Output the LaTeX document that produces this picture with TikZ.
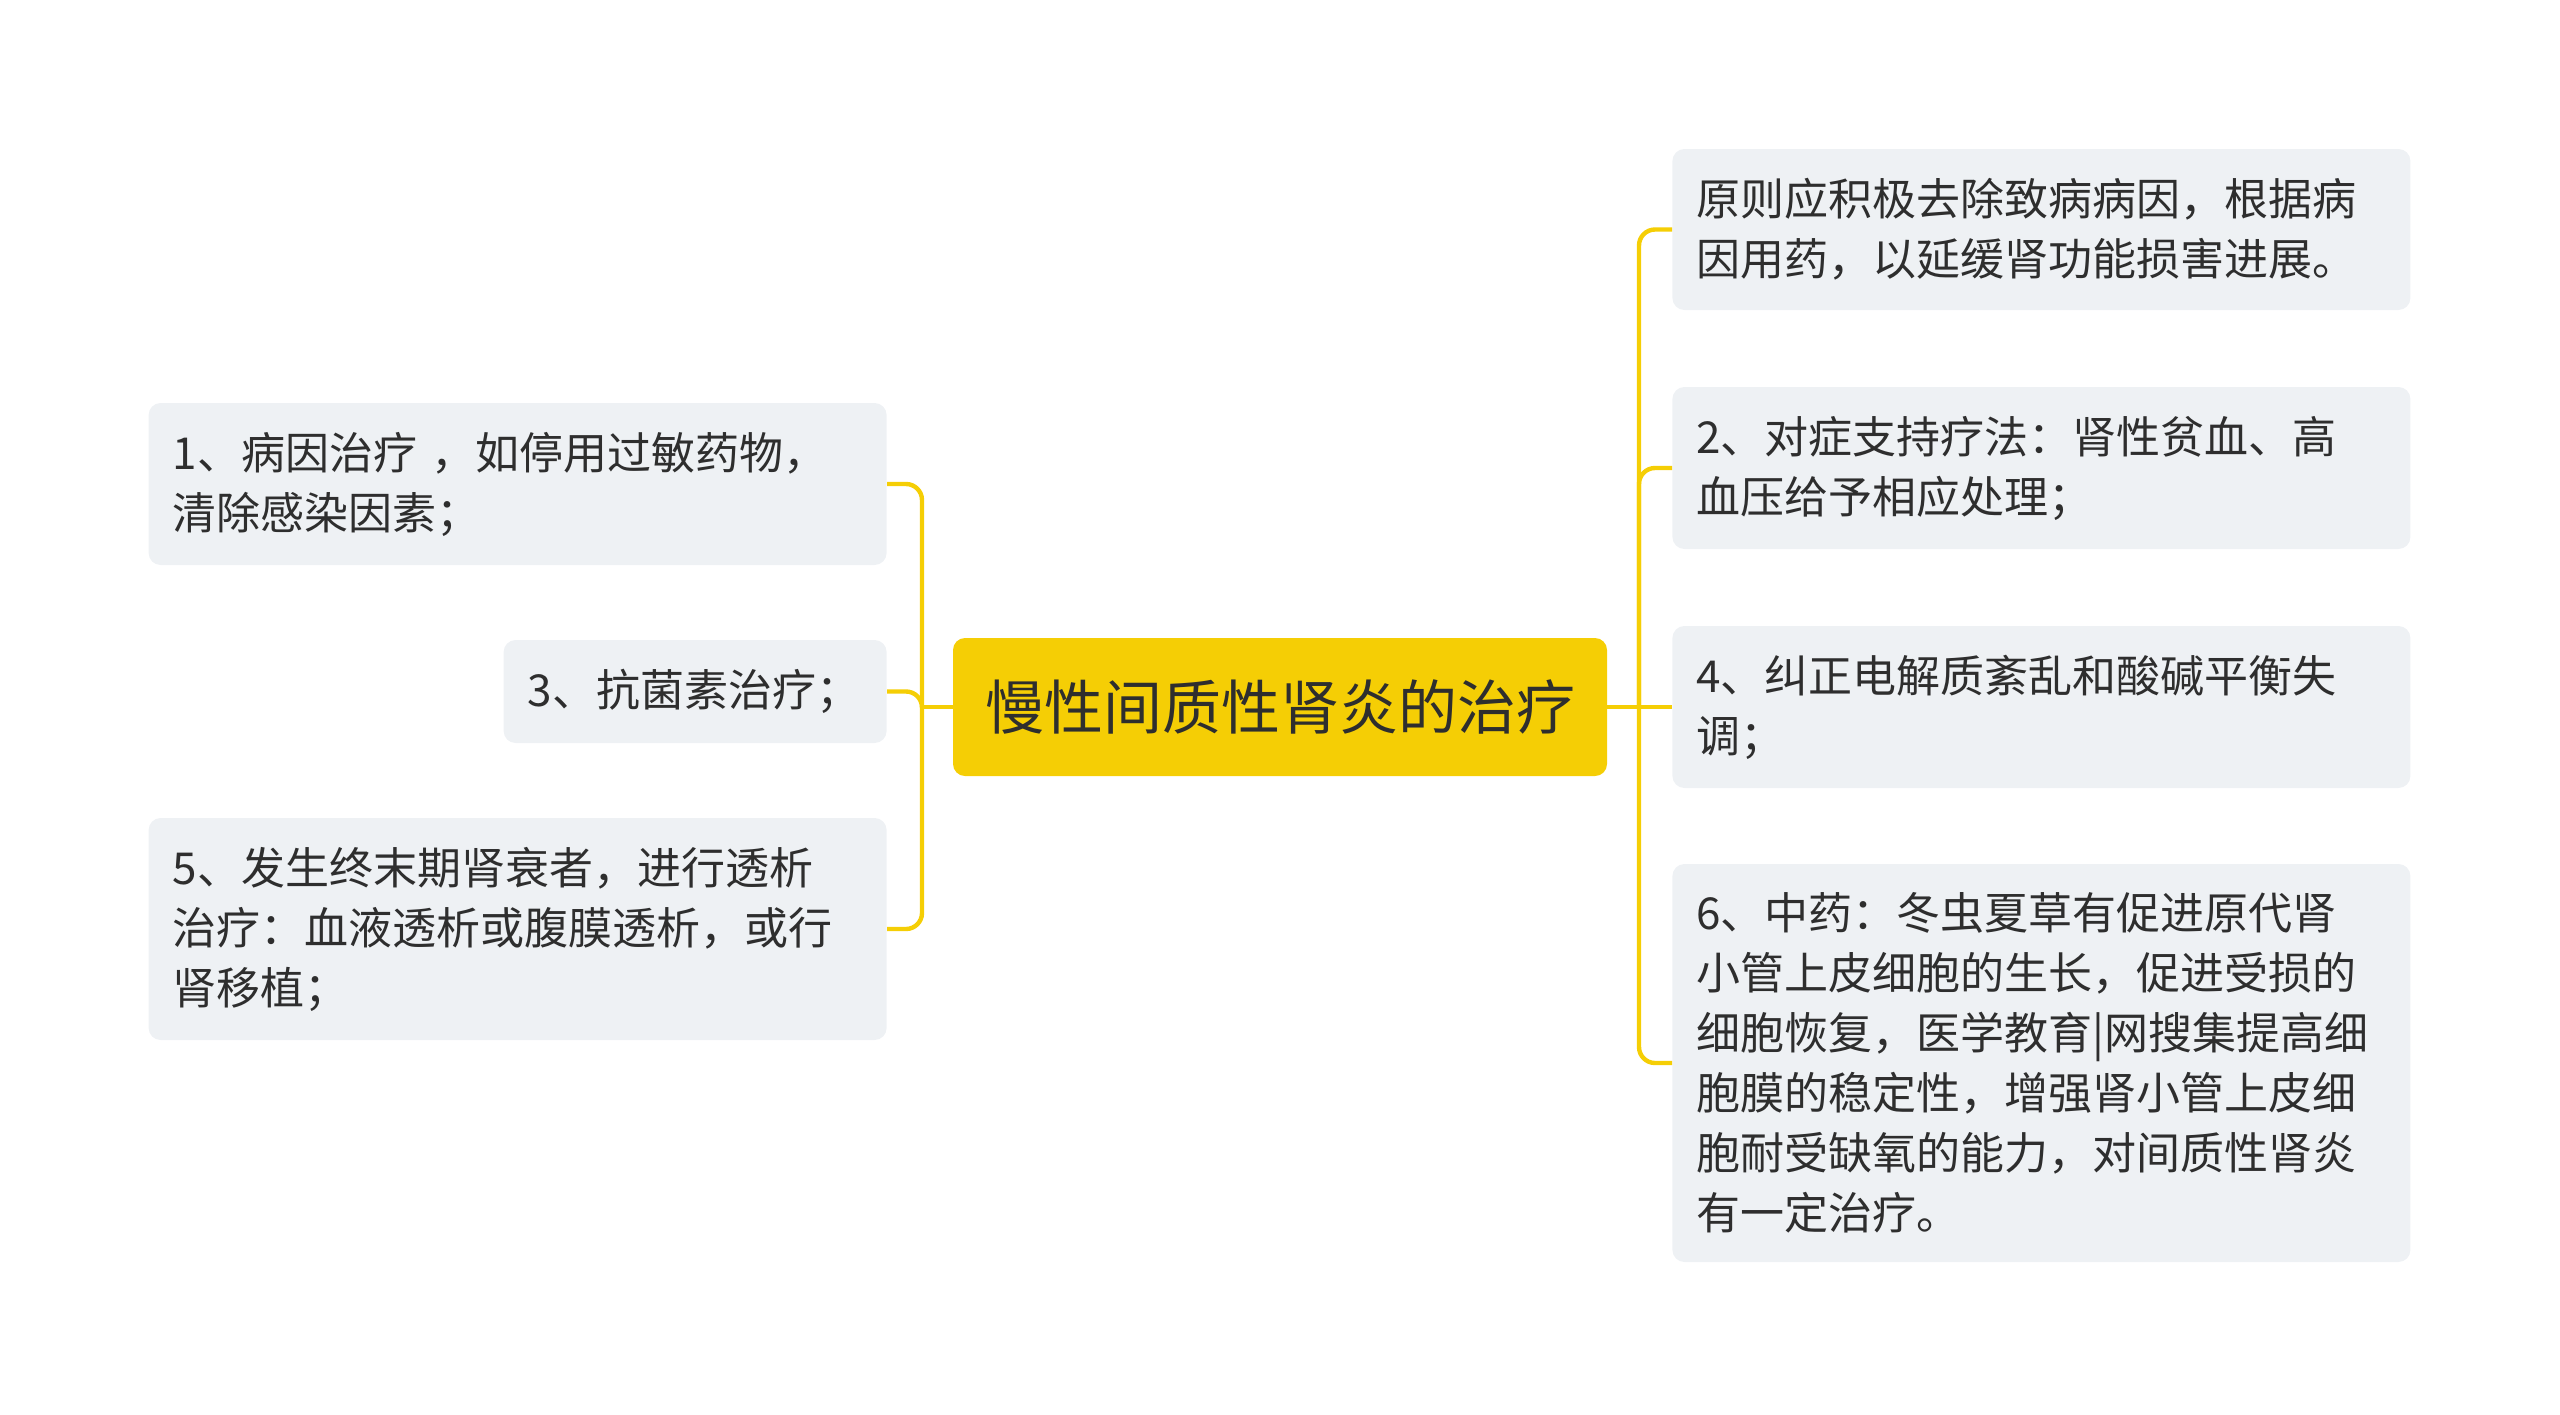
\documentclass[tikz,border=0pt]{standalone}
\usepackage{fontspec}
\setmainfont{Noto Sans CJK SC}
\usepackage{xcolor}
\usepackage{tikz}
\definecolor{rootyellow}{HTML}{F5CE05}
\definecolor{leafgray}{HTML}{EEF1F4}
\definecolor{inkgray}{HTML}{2E2E2E}

\begin{document}
\begin{tikzpicture}[x=0.5pt, y=-0.5pt,
        root/.style={fill=rootyellow, rounded corners=6pt, minimum width=327pt,
            minimum height=69pt, inner sep=0pt, text=inkgray,
            font=\fontsize{29.5pt}{36pt}\selectfont},
        leaf/.style={fill=leafgray, rounded corners=6pt, inner xsep=12pt,
            inner ysep=0pt, align=left, text=inkgray,
            font=\fontsize{22pt}{30pt}\selectfont},
        link/.style={draw=rootyellow, line width=2.2pt, rounded corners=8pt}]

            \useasboundingbox (0, 0) rectangle (2560, 1414);

            \node[root] (root) at (1280, 707) {慢性间质性肾炎的治疗};

            \node[leaf, anchor=east, text width=345pt, minimum height=81pt] (cause) at (887, 484)
            {1、病因治疗 ，如停用过敏药物，\\清除感染因素；};

            \node[leaf, anchor=east, text width=167.5pt, minimum height=51.5pt] (antibio) at (887, 691.5)
            {3、抗菌素治疗；};

            \node[leaf, anchor=east, text width=345pt, minimum height=111pt] (dialysis) at (887, 929)
            {5、发生终末期肾衰者，进行透析\\治疗：血液透析或腹膜透析，或行\\肾移植；};

            \node[leaf, anchor=west, text width=345pt, minimum height=80.5pt] (principle) at (1672, 229.5)
            {原则应积极去除致病病因，根据病\\因用药，以延缓肾功能损害进展。};

            \node[leaf, anchor=west, text width=345pt, minimum height=81pt] (support) at (1672, 468)
            {2、对症支持疗法：肾性贫血、高\\血压给予相应处理；};

            \node[leaf, anchor=west, text width=345pt, minimum height=81pt] (balance) at (1672, 707)
            {4、纠正电解质紊乱和酸碱平衡失\\调；};

            \node[leaf, anchor=west, text width=345pt, minimum height=199pt] (herbal) at (1672, 1063)
            {6、中药：冬虫夏草有促进原代肾\\小管上皮细胞的生长，促进受损的\\细胞恢复，医学教育|网搜集提高细\\胞膜的稳定性，增强肾小管上皮细\\胞耐受缺氧的能力，对间质性肾炎\\有一定治疗。};

            \coordinate (jl) at (922, 707);
            \coordinate (jr) at (1639, 707);

            \draw[link] (root.west) -- (jl);
            \draw[link] (jl) |- (cause.east);
            \draw[link] (jl) |- (antibio.east);
            \draw[link] (jl) |- (dialysis.east);

            \draw[link] (root.east) -- (jr);
            \draw[link] (jr) |- (principle.west);
            \draw[link] (jr) |- (support.west);
            \draw[link] (jr) -- (balance.west);
            \draw[link] (jr) |- (herbal.west);
        \end{tikzpicture}
\end{document}
